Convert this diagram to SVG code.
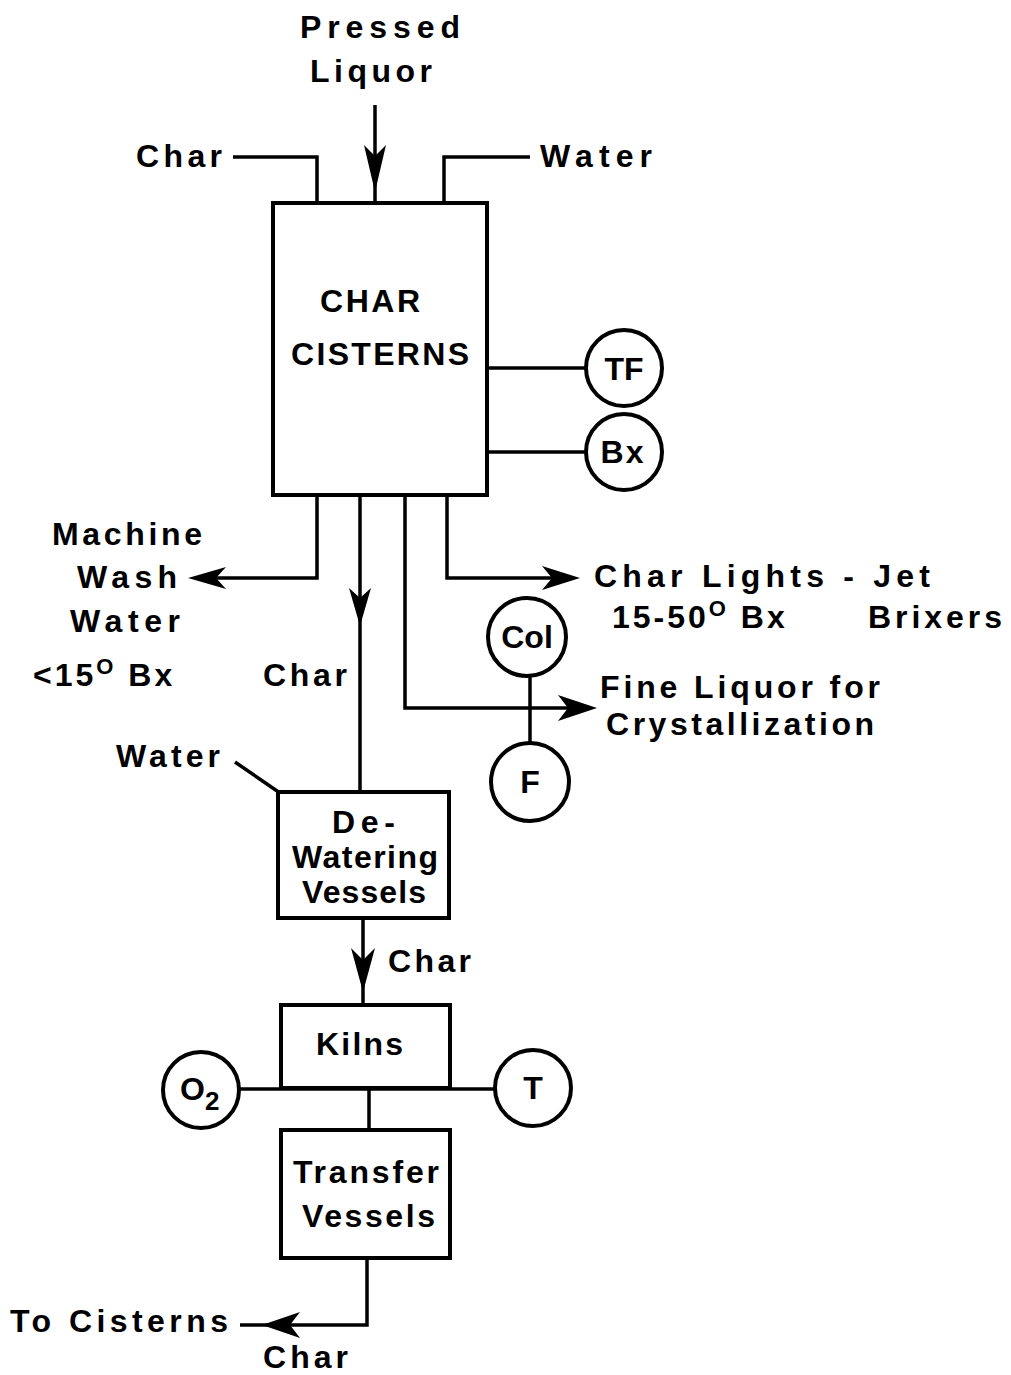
<svg xmlns="http://www.w3.org/2000/svg" width="1011" height="1375" viewBox="0 0 1011 1375">
<style>
text{font-family:"Liberation Sans",Arial,sans-serif;font-weight:bold;font-size:32px;fill:#000}
.c{text-anchor:middle}
.box{fill:none;stroke:#000;stroke-width:4}
.ln{fill:none;stroke:#000;stroke-width:3.5}
.ah{fill:#000;stroke:none}
</style>
<rect width="1011" height="1375" fill="#fff"/>
<g id="connectors">
<path class="ln" d="M375,105 V202"/>
<path class="ah" d="M375,192 L364,145 L375,156 L386,145 Z"/>
<path class="ln" d="M233,157 H317 V202"/>
<path class="ln" d="M530,157 H444 V202"/>
<path class="ln" d="M487,368 H586"/>
<path class="ln" d="M487,452 H586"/>
<path class="ln" d="M317,495 V578 H200"/>
<path class="ah" d="M188,578 L226,567 L216,578 L226,589 Z"/>
<path class="ln" d="M360,495 V792"/>
<path class="ah" d="M360,626 L349,588 L360,598 L371,588 Z"/>
<path class="ln" d="M447,495 V578 H565"/>
<path class="ah" d="M580,578 L542,566 L552,578 L542,590 Z"/>
<path class="ln" d="M405,495 V708 H580"/>
<path class="ah" d="M597,708 L558,695 L568,708 L558,721 Z"/>
<path class="ln" d="M530,676 V743"/>
<path class="ln" d="M235,762 L280,793"/>
<path class="ln" d="M363,918 V1005"/>
<path class="ah" d="M363,992 L351,948 L363,960 L375,948 Z"/>
<path class="ln" d="M239,1089 H495"/>
<path class="ln" d="M369,1089 V1131"/>
<path class="ln" d="M367,1258 V1325 H240"/>
<path class="ah" d="M262,1325 L300,1312 L290,1325 L300,1338 Z"/>
</g>
<g id="char-cisterns">
<rect class="box" x="273" y="203" width="214" height="292"/>
<text x="320" y="312" textLength="100">CHAR</text>
<text x="291" y="365" textLength="178">CISTERNS</text>
</g>
<g id="tf"><circle class="box" cx="624" cy="368" r="38"/><text class="c" x="624" y="380">TF</text></g>
<g id="bx"><circle class="box" cx="624" cy="452" r="38"/><text class="c" x="623" y="463" letter-spacing="2">Bx</text></g>
<g id="col"><ellipse class="box" cx="527" cy="637" rx="39" ry="39"/><text class="c" x="527" y="648" font-size="30">Col</text></g>
<g id="f"><circle class="box" cx="530" cy="782" r="39"/><text class="c" x="530" y="793">F</text></g>
<g id="dewatering">
<rect class="box" x="278" y="792" width="171" height="126"/>
<text x="332" y="833" textLength="63">De-</text>
<text x="292" y="868" textLength="146">Watering</text>
<text x="302" y="903" textLength="124">Vessels</text>
</g>
<g id="kilns">
<rect class="box" x="281" y="1005" width="169" height="83"/>
<text x="316" y="1055" textLength="87">Kilns</text>
</g>
<g id="o2"><circle class="box" cx="201" cy="1090" r="38"/><text x="180" y="1100">O<tspan font-size="26" dy="10">2</tspan></text></g>
<g id="t"><circle class="box" cx="533" cy="1088" r="38"/><text class="c" x="533" y="1099">T</text></g>
<g id="transfer">
<rect class="box" x="281" y="1130" width="169" height="128"/>
<text x="293" y="1183" textLength="146">Transfer</text>
<text x="302" y="1227" textLength="133">Vessels</text>
</g>
<g id="labels">
<text x="300" y="38" font-size="33" textLength="160">Pressed</text>
<text x="310" y="82" font-size="33" textLength="122">Liquor</text>
<text x="136" y="167" textLength="86">Char</text>
<text x="540" y="167" textLength="112">Water</text>
<text x="52" y="545" textLength="150">Machine</text>
<text x="77" y="588" textLength="100">Wash</text>
<text x="70" y="632" textLength="110">Water</text>
<text x="33" y="686" letter-spacing="3">&lt;15<tspan font-size="22" dy="-12">O</tspan><tspan dy="12"> Bx</tspan></text>
<text x="263" y="686" textLength="84">Char</text>
<text x="594" y="587" textLength="336">Char Lights - Jet</text>
<text x="612" y="628" letter-spacing="3">15-50<tspan font-size="22" dy="-12">O</tspan><tspan dy="12"> Bx</tspan></text>
<text x="868" y="628" textLength="134">Brixers</text>
<text x="600" y="698" textLength="280">Fine Liquor for</text>
<text x="606" y="735" textLength="268">Crystallization</text>
<text x="116" y="767" textLength="104">Water</text>
<text x="388" y="972" textLength="83">Char</text>
<text x="10" y="1332" textLength="218">To Cisterns</text>
<text x="263" y="1368" textLength="85">Char</text>
</g>
</svg>
